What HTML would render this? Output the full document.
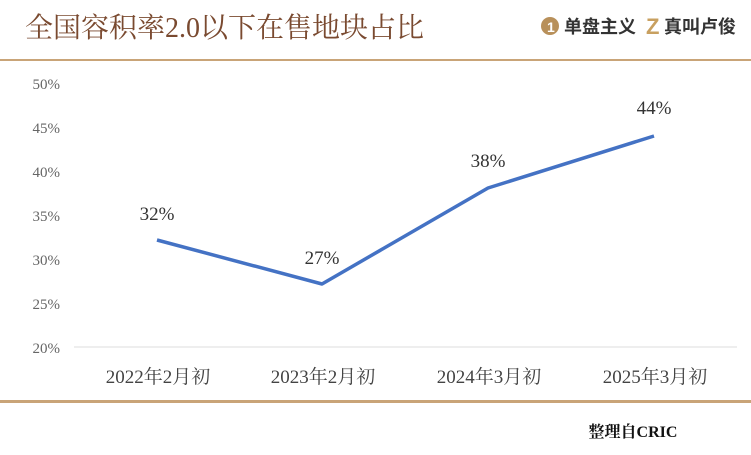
<!DOCTYPE html>
<html><head><meta charset="utf-8"><style>
body{margin:0;width:751px;height:450px;background:#fff;overflow:hidden;font-family:"Liberation Serif","Noto Serif CJK SC",serif;}
</style></head><body>
<svg width="751" height="450" xmlns="http://www.w3.org/2000/svg">
<text x="25" y="37" font-size="28" fill="#7a4a30" font-family="Liberation Serif, Noto Serif CJK SC, serif">全国容积率2.0以下在售地块占比</text>
<circle cx="550" cy="26" r="9" fill="#b8905a"/>
<text x="547" y="32" font-size="14" fill="#fff" font-weight="bold" font-family="Liberation Sans, sans-serif">1</text>
<text x="564" y="33" font-size="18" font-weight="bold" fill="#333" font-family="Liberation Sans, Noto Sans CJK SC, sans-serif">单盘主义</text>
<text x="646" y="34" font-size="22" font-weight="bold" fill="#c8a060" font-family="Liberation Sans, sans-serif">Z</text>
<text x="664" y="33" font-size="18" font-weight="bold" fill="#333" font-family="Liberation Sans, Noto Sans CJK SC, sans-serif">真叫卢俊</text>
<rect x="0" y="59" width="751" height="2" fill="#c9a478"/>
<rect x="0" y="400" width="751" height="3" fill="#c9a478"/>
<g font-size="15" fill="#666" text-anchor="end" font-family="Liberation Serif, serif">
<text x="60" y="89">50%</text><text x="60" y="133">45%</text><text x="60" y="177">40%</text>
<text x="60" y="221">35%</text><text x="60" y="265">30%</text><text x="60" y="309">25%</text><text x="60" y="353">20%</text>
</g>
<line x1="74" y1="347" x2="737" y2="347" stroke="#ddd" stroke-width="1"/>
<polyline points="157,240 322,284 488,188 654,136" fill="none" stroke="#4472c4" stroke-width="3.5" stroke-linejoin="round"/>
<g font-size="19" fill="#333" text-anchor="middle">
<text x="157" y="220">32%</text><text x="322" y="264">27%</text><text x="488" y="167">38%</text><text x="654" y="114">44%</text>
</g>
<g font-size="19" fill="#444" text-anchor="middle" font-family="Liberation Serif, Noto Serif CJK SC, serif">
<text x="158" y="383">2022年2月初</text><text x="323" y="383">2023年2月初</text><text x="489" y="383">2024年3月初</text><text x="655" y="383">2025年3月初</text>
</g>
<text x="633" y="437" font-size="16" fill="#111" text-anchor="middle" font-weight="bold">整理自CRIC</text>
</svg>
</body></html>
